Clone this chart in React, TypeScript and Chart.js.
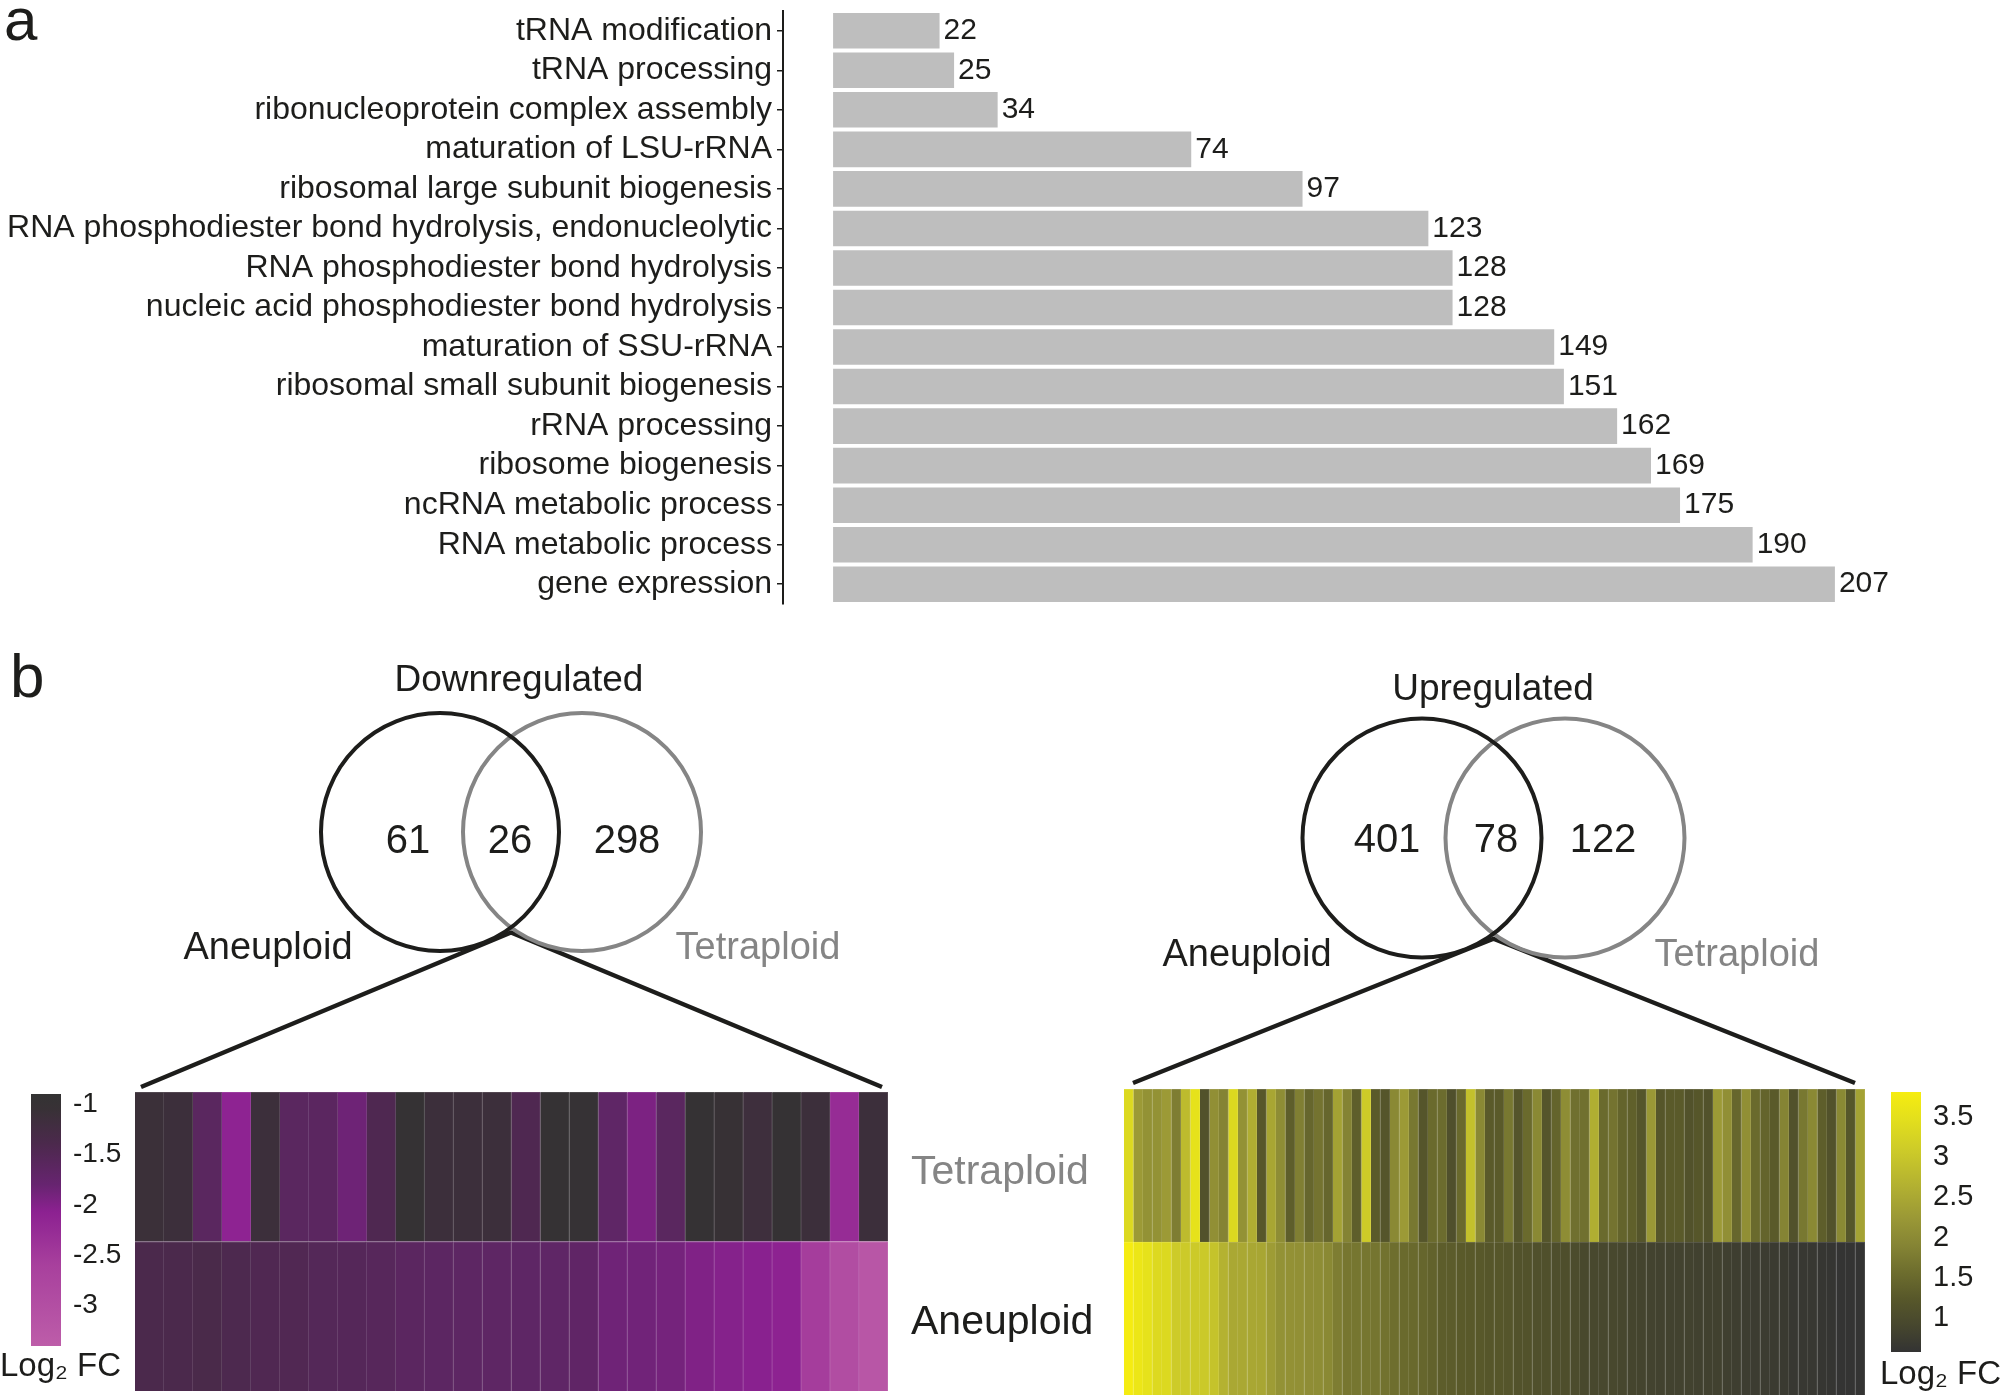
import React, { useEffect, useRef } from 'react';
import { Chart, registerables } from 'chart.js';

Chart.register(...registerables);

// ---------------- data ----------------
const GO_TERMS = [
  'tRNA modification',
  'tRNA processing',
  'ribonucleoprotein complex assembly',
  'maturation of LSU-rRNA',
  'ribosomal large subunit biogenesis',
  'RNA phosphodiester bond hydrolysis, endonucleolytic',
  'RNA phosphodiester bond hydrolysis',
  'nucleic acid phosphodiester bond hydrolysis',
  'maturation of SSU-rRNA',
  'ribosomal small subunit biogenesis',
  'rRNA processing',
  'ribosome biogenesis',
  'ncRNA metabolic process',
  'RNA metabolic process',
  'gene expression',
];
const GO_COUNTS = [22, 25, 34, 74, 97, 123, 128, 128, 149, 151, 162, 169, 175, 190, 207];

const SET_NAMES = ['Aneuploid', 'Tetraploid'];
const DOWN_TITLE = 'Downregulated';
const UP_TITLE = 'Upregulated';
const DOWN_COUNTS = [61, 26, 298];
const UP_COUNTS = [401, 78, 122];

const DOWN_TETRA = [-1.1, -1.12, -1.6, -2.1, -1.12, -1.6, -1.62, -1.85, -1.45, -0.97, -1.12, -1.12, -1.12, -1.45, -0.95, -1.0, -1.68, -1.95, -1.6, -0.95, -1.02, -1.15, -0.95, -1.12, -2.25, -1.12];
const DOWN_ANEU = [-1.38, -1.38, -1.36, -1.42, -1.46, -1.47, -1.52, -1.54, -1.56, -1.62, -1.64, -1.65, -1.66, -1.67, -1.68, -1.69, -1.86, -1.87, -1.9, -1.98, -2.02, -2.05, -2.08, -2.55, -2.95, -3.2];

const UP_TETRA = [
  3.35, 2.27, 2.13, 2.13, 2.27, 1.8, 2.82, 3.53, 1.13, 2.09, 1.89, 3.35, 2.13, 2.6, 1.23, 2.47, 2.05, 1.34, 1.83, 1.46, 1.66, 1.46, 2.4, 1.89, 1.34, 3.09,
  1.28, 1.19, 1.98, 2.27, 1.72, 1.19, 1.52, 1.55, 1.09, 1.52, 2.92, 1.98, 1.28, 1.28, 1.72, 1.19, 1.52, 1.98, 1.19, 1.43, 2.05, 1.61, 1.61, 2.6, 1.52, 1.66,
  1.43, 1.37, 1.19, 2.24, 1.21, 1.28, 1.28, 1.13, 1.21, 1.13, 2.27, 2.09, 1.46, 2.09, 1.52, 1.43, 1.28, 1.9, 1.13, 1.72, 1.98, 1.34, 1.13, 1.98, 1.21, 2.4,
];
const UP_ANEU = [
  3.79, 3.63, 3.53, 3.36, 3.35, 3.08, 3.07, 3.07, 3.06, 2.95, 2.66, 2.51, 2.5, 2.48, 2.47, 2.31, 2.13, 2.12, 2.11, 2.06, 2.05, 1.98, 1.8, 1.7, 1.69, 1.69,
  1.68, 1.64, 1.58, 1.52, 1.51, 1.46, 1.4, 1.32, 1.31, 1.28, 1.27, 1.25, 1.22, 1.21, 1.2, 1.14, 1.13, 1.1, 1.09, 1.06, 1.05, 1.02, 0.95, 0.94, 0.94, 0.93,
  0.92, 0.88, 0.87, 0.85, 0.84, 0.84, 0.83, 0.83, 0.82, 0.82, 0.81, 0.78, 0.77, 0.74, 0.73, 0.73, 0.72, 0.7, 0.67, 0.66, 0.66, 0.63, 0.62, 0.6, 0.59, 0.59,
];

const DOWN_RANGE = [-3.4, -0.9];
const UP_RANGE = [0.58, 3.81];
const DOWN_TICKS = [-1, -1.5, -2, -2.5, -3];
const UP_TICKS = [3.5, 3, 2.5, 2, 1.5, 1];
const LEGEND_TITLE = 'Log₂ FC';
const PANEL_LETTERS = ['a', 'b'];

// ---------------- styles / layout ----------------
const FONT = '"Liberation Sans", Arial, Helvetica, sans-serif';
const INK = '#1d1d1b';
const SET_GREY = '#858585';
const BAR_FILL = '#bebebe';

const DOWN_STOPS: [number, string][] = [
  [-3.4, '#BD5DA9'], [-2.6, '#A8409D'], [-2.07, '#8C2191'], [-1.8, '#672470'],
  [-1.4, '#4C294D'], [-1.05, '#383136'], [-0.9, '#333333'],
];
const UP_STOPS: [number, string][] = [
  [0.58, '#333333'], [0.9, '#46462E'], [1.25, '#58582A'], [1.58, '#6E6E2E'], [1.9, '#858434'],
  [2.24, '#9A9836'], [2.65, '#B3B131'], [3.07, '#CCCA29'], [3.49, '#E4E01C'], [3.81, '#F6ED10'],
];

const DOWN_VENN = {
  box: { left: 0, top: 620, width: 1000, height: 480 },
  cx: [440, 582], cy: 832, r: 119, apexDrop: 5,
  titleX: 519, titleY: 691, countX: [408, 510, 627], countY: 853,
  labelX: [268, 758], labelY: 959,
  zoomL: { x: 141, y: 1087 }, zoomR: { x: 882, y: 1087 },
  letter: { x: 10, y: 697 },
};
const UP_VENN = {
  box: { left: 1000, top: 620, width: 1000, height: 480 },
  cx: [1422, 1565], cy: 838, r: 119.5, apexDrop: 5,
  titleX: 1493, titleY: 700, countX: [1387, 1496, 1603], countY: 852,
  labelX: [1247, 1737], labelY: 966,
  zoomL: { x: 1133, y: 1083 }, zoomR: { x: 1855, y: 1083 },
  letter: null,
};
const DOWN_HM = { box: { left: 120, top: 1080, width: 1000, height: 319 }, padding: { left: 15, right: 232, top: 12, bottom: 8 } };
const UP_HM = { box: { left: 1110, top: 1080, width: 770, height: 319 }, padding: { left: 14, right: 15, top: 9, bottom: 4 } };
const DOWN_BAR = { box: { left: 0, top: 1054, width: 135, height: 345 }, padding: { left: 31, right: 0, top: 40, bottom: 53 }, axisWidth: 74, fontSize: 28, titleX: 0, titleY: 322 };
const UP_BAR = { box: { left: 1870, top: 1052, width: 130, height: 347 }, padding: { left: 21, right: 0, top: 40, bottom: 47 }, axisWidth: 79, fontSize: 29, titleX: 10, titleY: 332 };

// ---------------- helpers ----------------
function hexRgb(h: string): number[] {
  const n = parseInt(h.slice(1), 16);
  return [(n >> 16) & 255, (n >> 8) & 255, n & 255];
}
function rgbHex(c: number[]): string {
  return '#' + c.map((v) => Math.round(Math.max(0, Math.min(255, v))).toString(16).padStart(2, '0')).join('');
}
function makeColormap(stops: [number, string][]) {
  const pts = stops.map(([v, c]) => [v, hexRgb(c)] as [number, number[]]);
  return (v: number): string => {
    if (v <= pts[0][0]) return rgbHex(pts[0][1]);
    for (let i = 1; i < pts.length; i++) {
      if (v <= pts[i][0]) {
        const [v0, c0] = pts[i - 1];
        const [v1, c1] = pts[i];
        const t = (v - v0) / (v1 - v0);
        return rgbHex(c0.map((x, k) => x + (c1[k] - x) * t));
      }
    }
    return rgbHex(pts[pts.length - 1][1]);
  };
}
function lighten(hex: string, t: number): string {
  return rgbHex(hexRgb(hex).map((x) => x + (255 - x) * t));
}
function baseOptions(): any {
  return {
    responsive: false,
    animation: false,
    events: [],
    plugins: { legend: { display: false }, tooltip: { enabled: false } },
  };
}

// ---------------- builders ----------------
function buildBars(): any {
  const max = Math.max(...GO_COUNTS);
  const pad = max * 0.05;
  const labelPlugin = {
    id: 'barLabels',
    afterDatasetsDraw(chart: any) {
      const { ctx } = chart;
      const meta = chart.getDatasetMeta(0);
      ctx.save();
      ctx.font = `30px ${FONT}`;
      ctx.fillStyle = INK;
      ctx.textAlign = 'left';
      ctx.textBaseline = 'middle';
      meta.data.forEach((bar: any, i: number) => ctx.fillText(String(GO_COUNTS[i]), bar.x + 4, bar.y));
      ctx.font = `60px ${FONT}`;
      ctx.textBaseline = 'alphabetic';
      ctx.fillText(PANEL_LETTERS[0], 4, 40);
      ctx.restore();
    },
  };
  return {
    type: 'bar',
    data: {
      labels: GO_TERMS,
      datasets: [{ data: GO_COUNTS, backgroundColor: BAR_FILL, barPercentage: 0.9, categoryPercentage: 1 }],
    },
    options: {
      ...baseOptions(),
      indexAxis: 'y',
      layout: { autoPadding: false, padding: { left: 0, right: 115, top: 11, bottom: 16 } },
      scales: {
        x: { type: 'linear', display: false, min: -pad, max: max + pad },
        y: {
          type: 'category',
          offset: true,
          grid: { display: true, offset: false, drawOnChartArea: false, drawTicks: true, tickLength: 6, color: INK, lineWidth: 1.5 },
          border: { display: true, color: INK, width: 2 },
          ticks: { autoSkip: false, color: INK, font: { size: 32, family: FONT }, padding: 5 },
          afterFit: (s: any) => { s.width = 783; s.paddingTop = 0; s.paddingBottom = 0; },
        },
      },
    },
    plugins: [labelPlugin],
  };
}

function buildVenn(L: any, counts: number[], title: string): any {
  const [cxA, cxT] = L.cx;
  const half = (cxT - cxA) / 2;
  const meet = { x: (cxA + cxT) / 2, y: L.cy + Math.sqrt(L.r * L.r - half * half) + L.apexDrop };
  const textPlugin = {
    id: 'vennText',
    afterDraw(chart: any) {
      const { ctx, scales } = chart;
      const px = (v: number) => scales.x.getPixelForValue(v);
      const py = (v: number) => scales.y.getPixelForValue(v);
      ctx.save();
      ctx.textAlign = 'center';
      ctx.textBaseline = 'alphabetic';
      ctx.fillStyle = INK;
      ctx.font = `37px ${FONT}`;
      ctx.fillText(title, px(L.titleX), py(L.titleY));
      ctx.font = `40px ${FONT}`;
      counts.forEach((c, i) => ctx.fillText(String(c), px(L.countX[i]), py(L.countY)));
      ctx.font = `38px ${FONT}`;
      ctx.fillText(SET_NAMES[0], px(L.labelX[0]), py(L.labelY));
      ctx.fillStyle = SET_GREY;
      ctx.fillText(SET_NAMES[1], px(L.labelX[1]), py(L.labelY));
      if (L.letter) {
        ctx.fillStyle = INK;
        ctx.textAlign = 'left';
        ctx.font = `62px ${FONT}`;
        ctx.fillText(PANEL_LETTERS[1], px(L.letter.x), py(L.letter.y));
      }
      ctx.restore();
    },
  };
  return {
    type: 'bubble',
    data: {
      datasets: [
        { type: 'bubble', label: SET_NAMES[0], data: [{ x: cxA, y: L.cy, r: L.r }], borderColor: INK, borderWidth: 4, backgroundColor: 'rgba(0,0,0,0)' },
        { type: 'bubble', label: SET_NAMES[1], data: [{ x: cxT, y: L.cy, r: L.r }], borderColor: SET_GREY, borderWidth: 4, backgroundColor: 'rgba(0,0,0,0)' },
        { type: 'line', label: 'zoom', data: [L.zoomL, meet, L.zoomR], borderColor: INK, borderWidth: 4.5, pointRadius: 0, fill: false, tension: 0, borderJoinStyle: 'round', borderCapStyle: 'butt' },
      ],
    },
    options: {
      ...baseOptions(),
      layout: { autoPadding: false, padding: 0 },
      scales: {
        x: { type: 'linear', display: false, min: L.box.left, max: L.box.left + L.box.width },
        y: { type: 'linear', display: false, reverse: true, min: L.box.top, max: L.box.top + L.box.height },
      },
    },
    plugins: [textPlugin],
  };
}

function buildHeatmap(L: any, tetra: number[], aneu: number[], stops: [number, string][], withLabels: boolean): any {
  const cmap = makeColormap(stops);
  const ones = tetra.map(() => 1);
  const cols = tetra.map((_, i) => String(i + 1));
  const row = (vals: number[], label: string) => ({
    label,
    data: ones,
    backgroundColor: vals.map(cmap),
    borderColor: vals.map((v) => lighten(cmap(v), 0.16)),
    borderWidth: { top: 1, right: 1, bottom: 0, left: 0 },
    borderSkipped: false,
    barPercentage: 1,
    categoryPercentage: 1,
  });
  const labelPlugin = {
    id: 'rowLabels',
    afterDraw(chart: any) {
      if (!withLabels) return;
      const { ctx, chartArea, scales } = chart;
      ctx.save();
      ctx.font = `41px ${FONT}`;
      ctx.textAlign = 'left';
      ctx.textBaseline = 'alphabetic';
      ctx.fillStyle = SET_GREY;
      ctx.fillText(SET_NAMES[1], chartArea.right + 23, scales.y.getPixelForValue(1.5) + 17);
      ctx.fillStyle = INK;
      ctx.fillText(SET_NAMES[0], chartArea.right + 23, scales.y.getPixelForValue(0.5) + 18);
      ctx.restore();
    },
  };
  return {
    type: 'bar',
    data: { labels: cols, datasets: [row(aneu, SET_NAMES[0]), row(tetra, SET_NAMES[1])] },
    options: {
      ...baseOptions(),
      layout: { autoPadding: false, padding: L.padding },
      scales: {
        x: { stacked: true, display: false },
        y: { stacked: true, display: false, min: 0, max: 2 },
      },
    },
    plugins: [labelPlugin],
  };
}

function buildColorbar(L: any, range: number[], ticks: number[], stops: [number, string][]): any {
  const [lo, hi] = range;
  const fill = (c: any) => {
    const chart = c.chart;
    const y = chart.scales && chart.scales.y;
    if (!chart.chartArea || !y) return stops[0][1];
    const g = chart.ctx.createLinearGradient(0, y.getPixelForValue(lo), 0, y.getPixelForValue(hi));
    stops.forEach(([v, col]) => g.addColorStop(Math.min(1, Math.max(0, (v - lo) / (hi - lo))), col));
    return g;
  };
  const titlePlugin = {
    id: 'cbTitle',
    afterDraw(chart: any) {
      const { ctx } = chart;
      ctx.save();
      ctx.font = `33px ${FONT}`;
      ctx.fillStyle = INK;
      ctx.textAlign = 'left';
      ctx.textBaseline = 'alphabetic';
      ctx.fillText(LEGEND_TITLE, L.titleX, L.titleY);
      ctx.restore();
    },
  };
  return {
    type: 'bar',
    data: {
      labels: [''],
      datasets: [{ data: [[lo, hi]], backgroundColor: fill, borderWidth: 0, barPercentage: 1, categoryPercentage: 1 }],
    },
    options: {
      ...baseOptions(),
      layout: { autoPadding: false, padding: L.padding },
      scales: {
        x: { display: false },
        y: {
          type: 'linear',
          position: 'right',
          min: lo,
          max: hi,
          grid: { display: false, drawTicks: false },
          border: { display: false },
          ticks: { color: INK, font: { size: L.fontSize, family: FONT }, padding: 12, callback: (v: any) => String(v) },
          afterBuildTicks: (s: any) => { s.ticks = ticks.map((v) => ({ value: v })); },
          afterFit: (s: any) => { s.width = L.axisWidth; s.paddingTop = 0; s.paddingBottom = 0; },
        },
      },
    },
    plugins: [titlePlugin],
  };
}

// ---------------- components ----------------
function ChartBox({ box, build }: any) {
  const ref = useRef<HTMLCanvasElement | null>(null);
  useEffect(() => {
    if (!ref.current) return;
    const chart = new Chart(ref.current, build());
    return () => chart.destroy();
  }, []);
  return (
    <canvas
      ref={ref}
      width={box.width}
      height={box.height}
      style={{ position: 'absolute', left: box.left, top: box.top, width: box.width, height: box.height }}
    />
  );
}

export default function App() {
  return (
    <div style={{ position: 'absolute', left: 0, top: 0, width: 2000, height: 1399, background: '#ffffff', overflow: 'hidden' }}>
      <ChartBox box={{ left: 0, top: 0, width: 2000, height: 620 }} build={buildBars} />
      <ChartBox box={DOWN_VENN.box} build={() => buildVenn(DOWN_VENN, DOWN_COUNTS, DOWN_TITLE)} />
      <ChartBox box={UP_VENN.box} build={() => buildVenn(UP_VENN, UP_COUNTS, UP_TITLE)} />
      <ChartBox box={DOWN_HM.box} build={() => buildHeatmap(DOWN_HM, DOWN_TETRA, DOWN_ANEU, DOWN_STOPS, true)} />
      <ChartBox box={UP_HM.box} build={() => buildHeatmap(UP_HM, UP_TETRA, UP_ANEU, UP_STOPS, false)} />
      <ChartBox box={DOWN_BAR.box} build={() => buildColorbar(DOWN_BAR, DOWN_RANGE, DOWN_TICKS, DOWN_STOPS)} />
      <ChartBox box={UP_BAR.box} build={() => buildColorbar(UP_BAR, UP_RANGE, UP_TICKS, UP_STOPS)} />
    </div>
  );
}
